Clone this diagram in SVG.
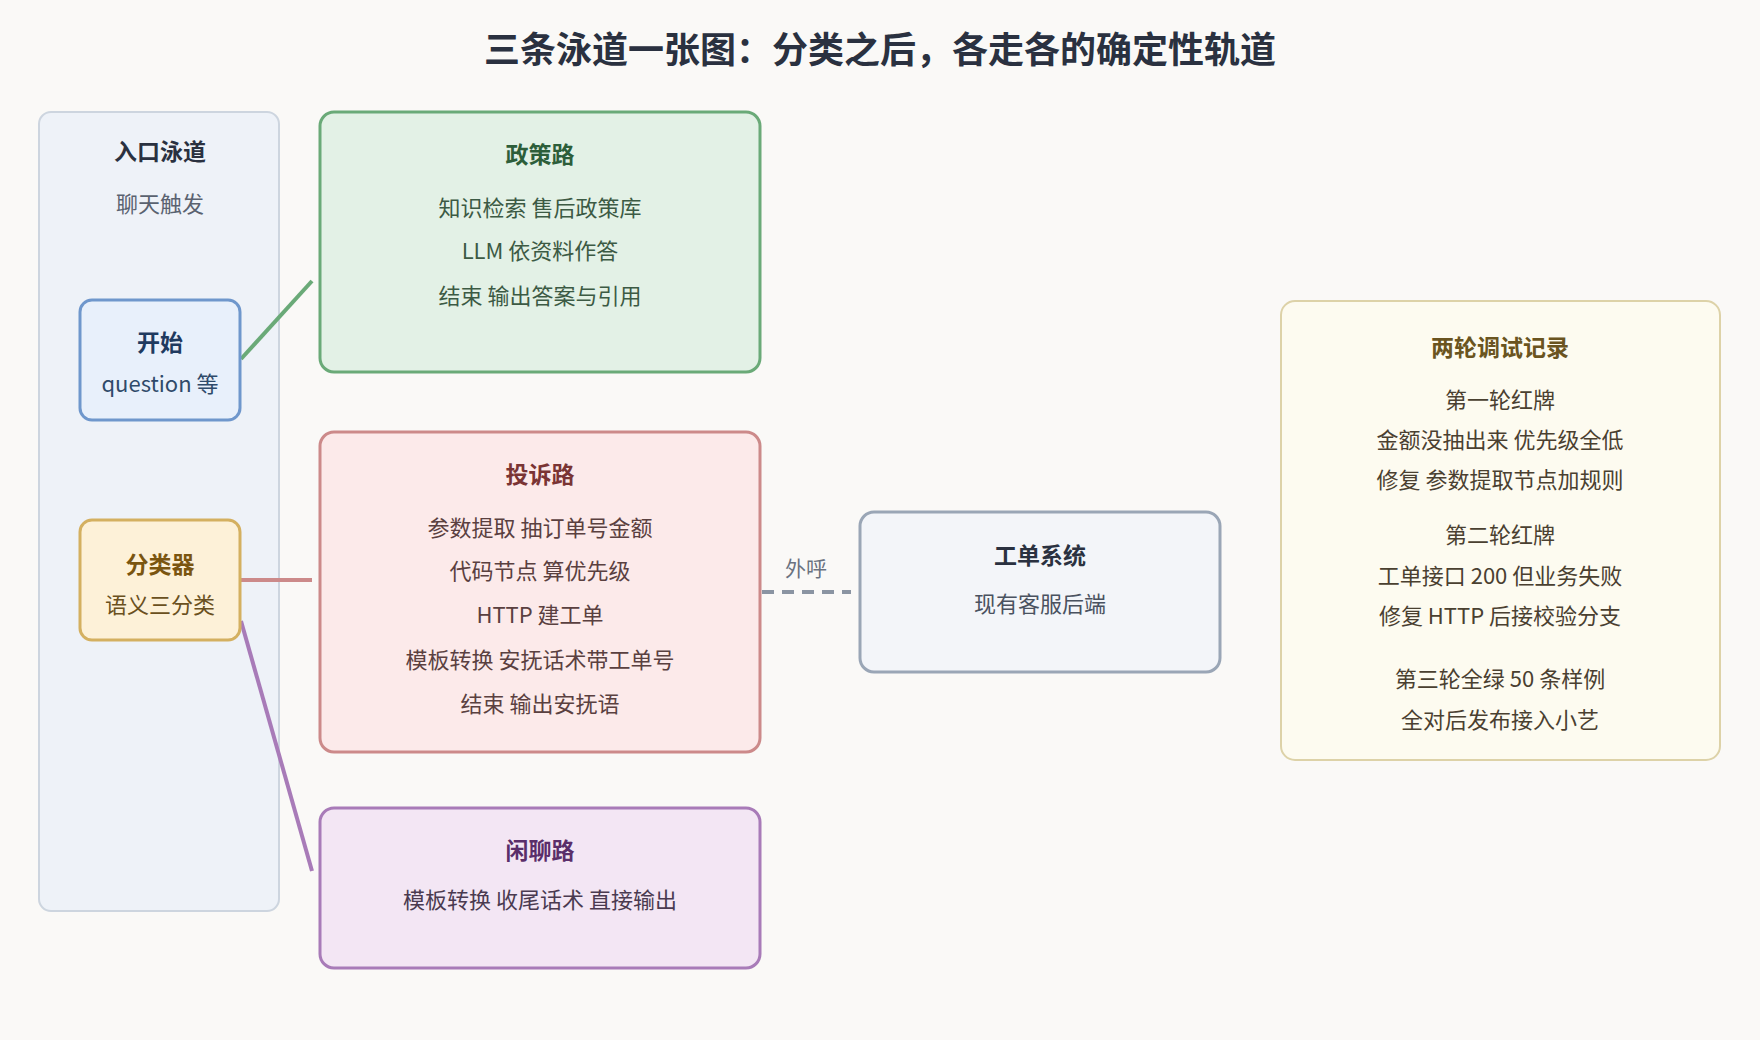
<svg xmlns="http://www.w3.org/2000/svg" width="1760" height="1040" viewBox="0 0 1760 1040">
<style>
text{font-family:"Noto Sans CJK SC","Noto Sans",sans-serif;text-anchor:middle;}
.t{font-size:23px;font-weight:bold}
.b{font-size:22px}
.c{stroke-width:4;fill:none}
</style>
<rect width="1760" height="1040" fill="#faf9f7"/>
<text x="880" y="63" font-size="36" font-weight="bold" fill="#2a3140">三条泳道一张图：分类之后，各走各的确定性轨道</text>
<g id="lane"><rect x="39" y="112" width="240" height="799" rx="12" fill="#eef2f8" stroke="#cdd5df" stroke-width="2"/>
<text x="160" y="160" class="t" fill="#2a3140">入口泳道</text><text x="160" y="212" class="b" fill="#5a6270">聊天触发</text></g>
<g id="connectors">
<line x1="241" y1="359" x2="312" y2="281" stroke="#6aaa78" class="c"/>
<line x1="241" y1="580" x2="312" y2="580" stroke="#cc8a8a" class="c"/>
<line x1="241" y1="621" x2="312" y2="871" stroke="#a87bb8" class="c"/>
<line x1="762" y1="592" x2="851" y2="592" stroke="#8a94a2" class="c" stroke-dasharray="12 8"/>
<text x="806" y="576" font-size="21" fill="#6a7280">外呼</text></g>
<g id="start"><rect x="80" y="300" width="160" height="120" rx="12" fill="#e8f0fb" stroke="#6f97cc" stroke-width="3"/>
<text x="160" y="351" class="t" fill="#1f3a5f">开始</text><text x="160" y="392" class="b" fill="#2f4a6a">question 等</text></g>
<g id="classifier"><rect x="80" y="520" width="160" height="120" rx="12" fill="#fdf1d8" stroke="#d4b060" stroke-width="3"/>
<text x="160" y="573" class="t" fill="#7a5510">分类器</text><text x="160" y="613" class="b" fill="#6a5020">语义三分类</text></g>
<g id="policy"><rect x="320" y="112" width="440" height="260" rx="14" fill="#e3f1e6" stroke="#6aaa78" stroke-width="3"/>
<text x="540" y="163" class="t" fill="#2d5e3a">政策路</text>
<text x="540" y="216" class="b" fill="#3c5a44">知识检索 售后政策库</text>
<text x="540" y="259" class="b" fill="#3c5a44">LLM 依资料作答</text>
<text x="540" y="304" class="b" fill="#3c5a44">结束 输出答案与引用</text></g>
<g id="complaint"><rect x="320" y="432" width="440" height="320" rx="14" fill="#fceaea" stroke="#cc8a8a" stroke-width="3"/>
<text x="540" y="483" class="t" fill="#7a3434">投诉路</text>
<text x="540" y="536" class="b" fill="#5a4040">参数提取 抽订单号金额</text>
<text x="540" y="579" class="b" fill="#5a4040">代码节点 算优先级</text>
<text x="540" y="623" class="b" fill="#5a4040">HTTP 建工单</text>
<text x="540" y="668" class="b" fill="#5a4040">模板转换 安抚话术带工单号</text>
<text x="540" y="712" class="b" fill="#5a4040">结束 输出安抚语</text></g>
<g id="chat"><rect x="320" y="808" width="440" height="160" rx="14" fill="#f3e6f4" stroke="#a87bb8" stroke-width="3"/>
<text x="540" y="859" class="t" fill="#5a2e6a">闲聊路</text>
<text x="540" y="908" class="b" fill="#4a3a50">模板转换 收尾话术 直接输出</text></g>
<g id="ticket"><rect x="860" y="512" width="360" height="160" rx="14" fill="#f3f5f9" stroke="#9aa6b6" stroke-width="3"/>
<text x="1040" y="564" class="t" fill="#2a3140">工单系统</text>
<text x="1040" y="612" class="b" fill="#4a5260">现有客服后端</text></g>
<g id="notes"><rect x="1281" y="301" width="439" height="459" rx="14" fill="#fdfbf0" stroke="#ddd2a8" stroke-width="2"/>
<text x="1500" y="356" class="t" fill="#6a5420">两轮调试记录</text>
<g class="b" fill="#4a4030" font-size="22">
<text x="1500" y="408">第一轮红牌</text><text x="1500" y="448">金额没抽出来 优先级全低</text><text x="1500" y="488">修复 参数提取节点加规则</text>
<text x="1500" y="543">第二轮红牌</text><text x="1500" y="584">工单接口 200 但业务失败</text><text x="1500" y="624">修复 HTTP 后接校验分支</text>
<text x="1500" y="687">第三轮全绿 50 条样例</text><text x="1500" y="728">全对后发布接入小艺</text></g></g>
</svg>
